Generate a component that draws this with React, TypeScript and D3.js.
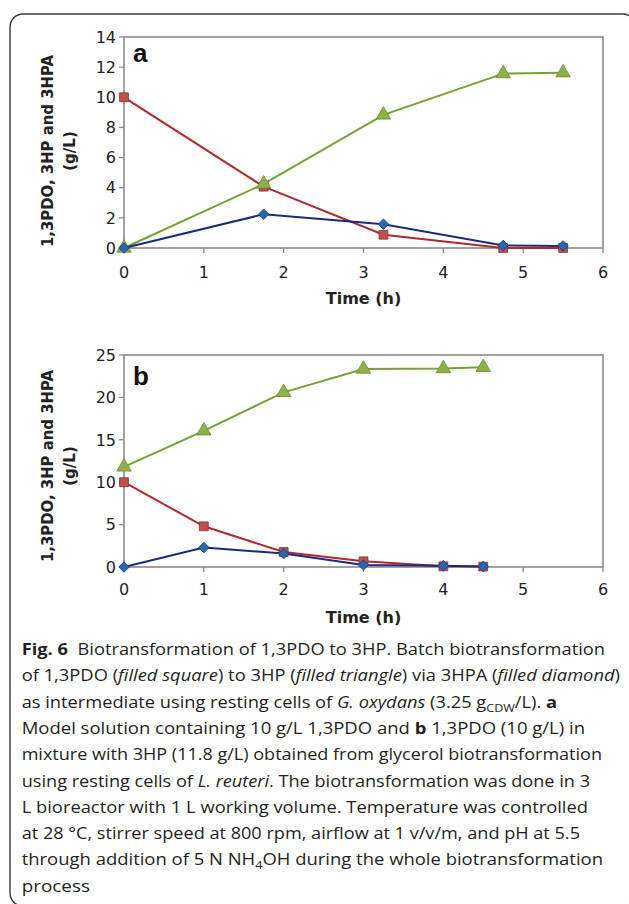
import React from "react";
import * as d3 from "d3";

// ---------- data ----------
const timeA = [0, 1.75, 3.25, 4.75, 5.5];
const pdoA = [10, 4.07, 0.88, 0, 0];
const hpA = [0, 4.25, 8.83, 11.57, 11.63];
const hpaA = [0, 2.24, 1.58, 0.17, 0.14];

const timeB = [0, 1, 2, 3, 4, 4.5];
const pdoB = [10, 4.8, 1.77, 0.67, 0.08, 0.05];
const hpB = [11.8, 16.06, 20.6, 23.35, 23.4, 23.55];
const hpaB = [0, 2.29, 1.58, 0.25, 0.15, 0.05];

const xTicks = [0, 1, 2, 3, 4, 5, 6];
const yTicksA = [0, 2, 4, 6, 8, 10, 12, 14];
const yTicksB = [0, 5, 10, 15, 20, 25];

const yTitle1 = "1,3PDO, 3HP and 3HPA";
const yTitle2 = "(g/L)";
const xTitle = "Time (h)";

// ---------- styles ----------
const RED_LINE = "#b3282d";
const RED_FILL = "#c0504d";
const RED_STROKE = "#8c2b2b";
const GREEN_LINE = "#77a032";
const GREEN_FILL = "#8fb04a";
const GREEN_STROKE = "#6b8a30";
const BLUE_LINE = "#1b2a7c";
const BLUE_FILL = "#2866ad";
const BLUE_STROKE = "#1b3d7a";
const AXIS = "#8a8a8a";
const TXT = "#222";

const LEFT = 124;
const RIGHT = 603;

type Series = { vals: number[]; line: string; fill: string; stroke: string; sym: d3.SymbolType; size: number; rot: number };

function Panel(props: {
  top: number;
  bottom: number;
  yMax: number;
  yTicks: number[];
  times: number[];
  series: Series[];
  letter: string;
  letterY: number;
  xLabelY: number;
  xTitleY: number;
  yTitleCenter: number;
}) {
  const { top, bottom, yMax, yTicks, times, series, letter, letterY, xLabelY, xTitleY, yTitleCenter } = props;
  const x = d3.scaleLinear().domain([0, 6]).range([LEFT, RIGHT]);
  const y = d3.scaleLinear().domain([0, yMax]).range([bottom, top]);
  const tickFont = { fontFamily: "DejaVu Sans", fontSize: 16, fill: TXT };
  return (
    <g>
      <rect x={LEFT} y={top} width={RIGHT - LEFT} height={bottom - top} fill="white" stroke={AXIS} strokeWidth={1.6} />
      {yTicks.map((t) => (
        <g key={"y" + t}>
          <line x1={LEFT - 5} x2={LEFT} y1={y(t)} y2={y(t)} stroke={AXIS} strokeWidth={1.3} />
          <text x={116} y={y(t)} dy="0.36em" textAnchor="end" {...tickFont}>
            {t}
          </text>
        </g>
      ))}
      {xTicks.map((t) => (
        <g key={"x" + t}>
          <line x1={x(t)} x2={x(t)} y1={bottom} y2={bottom + 5} stroke={AXIS} strokeWidth={1.3} />
          <text x={x(t)} y={xLabelY} textAnchor="middle" {...tickFont}>
            {t}
          </text>
        </g>
      ))}
      <text x={(LEFT + RIGHT) / 2} y={xTitleY} textAnchor="middle" fontFamily="DejaVu Sans" fontWeight="bold" fontSize={16} fill={TXT}>
        {xTitle}
      </text>
      <g transform={`translate(53,${yTitleCenter}) rotate(-90)`}>
        <text x={0} y={0} textAnchor="middle" fontFamily="DejaVu Sans" fontWeight="bold" fontSize={15} fill={TXT} textLength={192} lengthAdjust="spacingAndGlyphs">
          {yTitle1}
        </text>
      </g>
      <g transform={`translate(75,${yTitleCenter}) rotate(-90)`}>
        <text x={0} y={0} textAnchor="middle" fontFamily="DejaVu Sans" fontWeight="bold" fontSize={15} fill={TXT}>
          {yTitle2}
        </text>
      </g>
      <text x={133} y={letterY} fontFamily="Liberation Sans" fontWeight="bold" fontSize={26} fill="#111">
        {letter}
      </text>
      {series.map((s, i) => {
        const pts: [number, number][] = times.map((t, j) => [x(t), y(s.vals[j])]);
        const path = d3.line()(pts) || "";
        return <path key={"l" + i} d={path} fill="none" stroke={s.line} strokeWidth={2} />;
      })}
      {series.map((s, i) =>
        times.map((t, j) => (
          <path
            key={"m" + i + "-" + j}
            d={d3.symbol().type(s.sym).size(s.size)() || ""}
            transform={`translate(${x(t)},${y(s.vals[j])}) rotate(${s.rot})`}
            fill={s.fill}
            stroke={s.stroke}
            strokeWidth={0.8}
          />
        ))
      )}
    </g>
  );
}

const captionLines: { parts: { t: string; b?: boolean; i?: boolean; sub?: boolean }[]; end: number }[] = [
  { parts: [{ t: "Fig. 6", b: true }, { t: "\u00a0\u00a0Biotransformation of 1,3PDO to 3HP. Batch biotransformation" }], end: 605 },
  {
    parts: [
      { t: "of 1,3PDO (" },
      { t: "filled square", i: true },
      { t: ") to 3HP (" },
      { t: "filled triangle", i: true },
      { t: ") via 3HPA (" },
      { t: "filled diamond", i: true },
      { t: ")" },
    ],
    end: 620,
  },
  {
    parts: [
      { t: "as intermediate using resting cells of " },
      { t: "G. oxydans", i: true },
      { t: " (3.25 g" },
      { t: "CDW", sub: true },
      { t: "/L). " },
      { t: "a", b: true },
    ],
    end: 557,
  },
  { parts: [{ t: "Model solution containing 10 g/L 1,3PDO and " }, { t: "b", b: true }, { t: " 1,3PDO (10 g/L) in" }], end: 585 },
  { parts: [{ t: "mixture with 3HP (11.8 g/L) obtained from glycerol biotransformation" }], end: 602 },
  { parts: [{ t: "using resting cells of " }, { t: "L. reuteri", i: true }, { t: ". The biotransformation was done in 3" }], end: 590 },
  { parts: [{ t: "L bioreactor with 1 L working volume. Temperature was controlled" }], end: 588 },
  { parts: [{ t: "at 28 °C, stirrer speed at 800 rpm, airflow at 1 v/v/m, and pH at 5.5" }], end: 580 },
  { parts: [{ t: "through addition of 5 N NH" }, { t: "4", sub: true }, { t: "OH during the whole biotransformation" }], end: 603 },
  { parts: [{ t: "process" }], end: 90 },
];

export default function App() {
  const mk = (vals: number[], kind: number): Series =>
    kind === 0
      ? { vals, line: RED_LINE, fill: RED_FILL, stroke: RED_STROKE, sym: d3.symbolSquare, size: 78, rot: 0 }
      : kind === 1
      ? { vals, line: GREEN_LINE, fill: GREEN_FILL, stroke: GREEN_STROKE, sym: d3.symbolTriangle, size: 90, rot: 0 }
      : { vals, line: BLUE_LINE, fill: BLUE_FILL, stroke: BLUE_STROKE, sym: d3.symbolSquare, size: 55, rot: 45 };
  const seriesA: Series[] = [mk(pdoA, 0), mk(hpA, 1), mk(hpaA, 2)];
  const seriesB: Series[] = [mk(pdoB, 0), mk(hpB, 1), mk(hpaB, 2)];
  const capX = 21.7;
  return (
    <svg width={629} height={904} style={{ position: "absolute", left: 0, top: 0 }}>
      <rect x={0} y={0} width={629} height={904} fill="white" />
      <rect x={10} y={14} width={626} height={892} rx={13} ry={13} fill="none" stroke="#3a3a3a" strokeWidth={1.4} />
      <Panel
        top={37}
        bottom={248}
        yMax={14}
        yTicks={yTicksA}
        times={timeA}
        series={seriesA}
        letter="a"
        letterY={62}
        xLabelY={278}
        xTitleY={304}
        yTitleCenter={151}
      />
      <Panel
        top={355}
        bottom={567}
        yMax={25}
        yTicks={yTicksB}
        times={timeB}
        series={seriesB}
        letter="b"
        letterY={385}
        xLabelY={595}
        xTitleY={623}
        yTitleCenter={466}
      />
      {captionLines.map((ln, k) => (
        <text
          key={"c" + k}
          x={capX}
          y={655 + k * 26.3}
          fontFamily="Open Sans"
          fontSize={16}
          fill="#231f20"
          textLength={ln.end - capX}
          lengthAdjust="spacingAndGlyphs"
        >
          {ln.parts.map((p, j) => (
            <tspan
              key={j}
              fontWeight={p.b ? "bold" : undefined}
              fontStyle={p.i ? "italic" : undefined}
              fontSize={p.sub ? 11 : undefined}
              baselineShift={p.sub ? "-4" : undefined}
            >
              {p.t}
            </tspan>
          ))}
        </text>
      ))}
    </svg>
  );
}
